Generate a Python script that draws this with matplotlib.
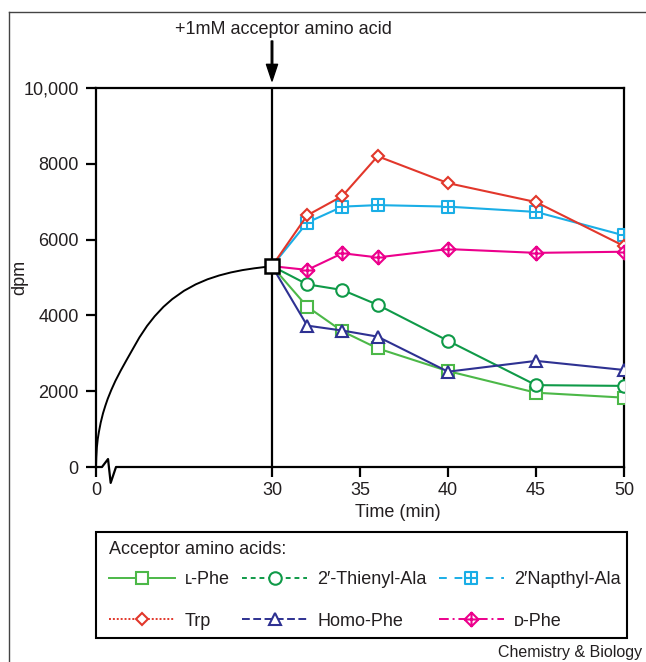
import numpy as np
import matplotlib
matplotlib.use('Agg')
import matplotlib.pyplot as plt
from matplotlib.path import Path
from matplotlib.lines import Line2D
from matplotlib.patches import Rectangle
import matplotlib.transforms as mtransforms

plt.rcParams['font.family'] = ['Liberation Sans', 'DejaVu Sans']

# ---------------- data ----------------
times = [30, 32, 34, 36, 40, 45, 50]
l_phe = [5300, 4230, 3580, 3130, 2530, 1960, 1830]
thienyl_ala = [5300, 4820, 4670, 4280, 3330, 2160, 2140]
napthyl_ala = [5300, 6450, 6870, 6910, 6870, 6730, 6110]
trp = [5300, 6640, 7150, 8200, 7490, 6990, 5830]
homo_phe = [5300, 3730, 3600, 3440, 2515, 2800, 2560]
d_phe = [5300, 5200, 5640, 5530, 5750, 5650, 5680]

curve_t = [0, 0.05, 0.15, 0.3, 0.5, 0.8, 1.2, 1.6, 2.0, 2.6, 3.3, 4.2, 5.2, 6.2,
           7.4, 8.7, 10, 11.5, 13, 15, 17, 19, 21, 23, 25, 27, 29, 30]
curve_v = [0, 250, 520, 740, 930, 1170, 1420, 1620, 1800, 2030, 2270, 2540, 2820, 3093,
           3419, 3722, 3977, 4226, 4430, 4649, 4819, 4952, 5054, 5134, 5196, 5243, 5281, 5300]

x_ticks = [0, 30, 35, 40, 45, 50]
x_tick_labels = ['0', '30', '35', '40', '45', '50']
y_ticks = [0, 2000, 4000, 6000, 8000, 10000]
y_tick_labels = ['0', '2000', '4000', '6000', '8000', '10,000']

labels = ['\u029f-Phe', '2\u2032-Thienyl-Ala', '2\u2032Napthyl-Ala', 'Trp', 'Homo-Phe', '\u1d05-Phe']

# ---------------- markers ----------------
crossed_square = Path(
    [(-1, -1), (1, -1), (1, 1), (-1, 1), (-1, -1), (-1, 0), (1, 0), (0, -1), (0, 1)],
    [Path.MOVETO, Path.LINETO, Path.LINETO, Path.LINETO, Path.CLOSEPOLY,
     Path.MOVETO, Path.LINETO, Path.MOVETO, Path.LINETO])
crossed_diamond = Path(
    [(0, -1), (1, 0), (0, 1), (-1, 0), (0, -1), (-1, 0), (1, 0), (0, -1), (0, 1)],
    [Path.MOVETO, Path.LINETO, Path.LINETO, Path.LINETO, Path.CLOSEPOLY,
     Path.MOVETO, Path.LINETO, Path.MOVETO, Path.LINETO])

TXT = '#231f20'
series = [
    (labels[0], l_phe, '#4cb848', 's', 8.5, '-'),
    (labels[1], thienyl_ala, '#0f9a48', 'o', 9, (0, (2.5, 2))),
    (labels[2], napthyl_ala, '#1aaee6', crossed_square, 9, (0, (4, 4))),
    (labels[3], trp, '#e2372b', 'D', 6.5, (0, (1, 1))),
    (labels[4], homo_phe, '#2e3192', '^', 9, (0, (4, 1.8))),
    (labels[5], d_phe, '#ec008c', crossed_diamond, 10, (0, (5, 2, 1, 2))),
]

# ---------------- figure ----------------
fig = plt.figure(figsize=(6.46, 6.62), dpi=100)
ax = fig.add_axes([96 / 646, 1 - 467 / 662, 528 / 646, 379 / 662])


def fwd(x):
    x = np.asarray(x, dtype=float)
    return np.where(x <= 30, x / 3.0, x - 20.0)


def inv(u):
    u = np.asarray(u, dtype=float)
    return np.where(u <= 10, u * 3.0, u + 20.0)


ax.set_xscale('function', functions=(fwd, inv))
ax.set_xlim(0, 50)
ax.set_ylim(0, 10000)

# reference line at 30
ax.axvline(30, color='black', lw=1.6, zorder=2)

# initial curve
ax.plot(curve_t, curve_v, color='black', lw=1.4, zorder=3, solid_joinstyle='round')

handles = []
for lab, vals, col, mk, ms, ls in series:
    ax.plot(times, vals, color=col, lw=1.5, marker=mk, ms=ms, mfc='white',
            mec=col, mew=1.5, markevery=list(range(1, len(times))), zorder=4)
    handles.append(Line2D([], [], color=col, lw=1.4, ls=ls, marker=mk, ms=ms,
                          mfc='white', mec=col, mew=1.5, label=lab))

# start point square
ax.plot(curve_t[-1:], curve_v[-1:], ls='none', marker='s', ms=10, mfc='white',
        mec='black', mew=1.8, zorder=6)

# axes styling
for s in ['left', 'top', 'right']:
    ax.spines[s].set_linewidth(1.6)
    ax.spines[s].set_color('black')
ax.spines['bottom'].set_visible(False)

blend = mtransforms.blended_transform_factory(ax.transData, ax.transAxes)
ax.plot([0, 1.02, 2.05, 2.5, 3.41, 50], [0, 0, 0.021, -0.042, 0, 0],
        transform=blend, color='black', lw=1.6, clip_on=False, zorder=5)

ax.set_xticks(x_ticks)
ax.set_xticklabels(x_tick_labels)
ax.set_yticks(y_ticks)
ax.set_yticklabels(y_tick_labels)
ax.xaxis.set_minor_locator(matplotlib.ticker.NullLocator())
ax.tick_params(axis='both', direction='out', length=7.5, width=1.6, colors='black',
               labelsize=13, labelcolor=TXT)
ax.tick_params(axis='y', pad=5)
ax.tick_params(axis='x', pad=3.5)

ax.set_xlabel('Time (min)', fontsize=13, color=TXT)
ax.xaxis.set_label_coords((398 - 96) / 528, (467 - 504) / 379)
ax.set_ylabel('dpm', fontsize=13, color=TXT)
ax.yaxis.set_label_coords((28 - 96) / 528, 0.5)

# arrow and annotation
ax.annotate('', xy=(30, 1 + 7 / 379), xytext=(30, 1 + 47 / 379),
            xycoords=blend, textcoords=blend,
            arrowprops=dict(facecolor='black', edgecolor='black', width=1.1,
                            headwidth=8, headlength=12, shrink=0))
ax.annotate('+1mM acceptor amino acid', xy=(30, 1), xycoords=blend,
            xytext=(11.5, 59), textcoords='offset pixels', ha='center', va='center',
            fontsize=13, color=TXT, annotation_clip=False)

# legend box
fig.add_artist(Rectangle((96 / 646, 1 - 638 / 662), 531 / 646, 106 / 662,
                         transform=fig.transFigure, fill=False, edgecolor='black', lw=1.5))
fig.text(109 / 646, 1 - 550 / 662, 'Acceptor amino acids:', ha='left', va='center',
         fontsize=13, color=TXT)
order = [0, 3, 1, 4, 2, 5]
leg = fig.legend([handles[i] for i in order], [handles[i].get_label() for i in order],
                 ncol=3, loc='upper left', bbox_to_anchor=(109 / 646, 1 - 571 / 662),
                 frameon=False, fontsize=13, handlelength=3.65, handletextpad=0.55,
                 columnspacing=0.65, labelspacing=1.37, borderpad=0, borderaxespad=0,
                 numpoints=1)
for t in leg.get_texts():
    t.set_color(TXT)

fig.text(642 / 646, 1 - 653 / 662, 'Chemistry & Biology', ha='right', va='center',
         fontsize=11.5, color=TXT)

# outer frame
fig.add_artist(Line2D([9 / 646, 9 / 646], [0, 1 - 12 / 662], transform=fig.transFigure,
                      color='#444444', lw=1.0))
fig.add_artist(Line2D([9 / 646, 1], [1 - 12 / 662, 1 - 12 / 662], transform=fig.transFigure,
                      color='#444444', lw=1.0))

fig.savefig('out.png', dpi=100)
